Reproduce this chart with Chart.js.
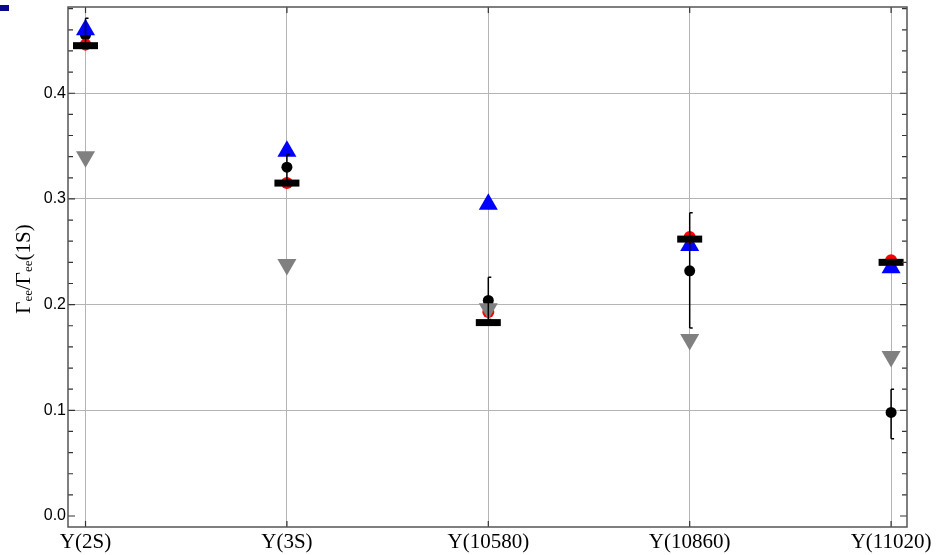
<!DOCTYPE html>
<html>
<head>
<meta charset="utf-8">
<script src="https://cdn.jsdelivr.net/npm/chart.js@4"></script>
<style>
  html, body { margin: 0; padding: 0; background: #fff; }
  #wrap { width: 937px; height: 555px; position: relative; }
</style>
</head>
<body>
<div id="wrap"><canvas id="ratioChart"></canvas></div>
<script>
const categories = ['Υ(2S)', 'Υ(3S)', 'Υ(10580)', 'Υ(10860)', 'Υ(11020)'];
const yTicks = [0.0, 0.1, 0.2, 0.3, 0.4];

// experiment (black dots with error bars)
const exptValues = [0.455, 0.330, 0.204, 0.232, 0.098];
const exptLow    = [0.445, 0.318, 0.186, 0.178, 0.073];
const exptHigh   = [0.471, 0.342, 0.226, 0.287, 0.120];

// model predictions
const redValues   = [0.446, 0.315, 0.193, 0.264, 0.242];
const blueValues  = [0.460, 0.345, 0.295, 0.256, 0.235];
const greyValues  = [0.340, 0.238, 0.196, 0.167, 0.151];
const blackBars   = [0.445, 0.315, 0.183, 0.262, 0.240];

const pts = vals => vals.map((v, i) => ({ x: i, y: v }));

const frameAndTicks = {
  id: 'frameAndTicks',
  afterDatasetsDraw(chart) {
    const { ctx, chartArea: a, scales: { x, y } } = chart;
    ctx.save();
    // error bars
    ctx.strokeStyle = '#000';
    ctx.lineWidth = 1.5;
    exptValues.forEach((v, i) => {
      const px = x.getPixelForValue(i);
      const lo = y.getPixelForValue(exptLow[i]);
      const hi = y.getPixelForValue(exptHigh[i]);
      ctx.beginPath();
      ctx.moveTo(px, lo); ctx.lineTo(px, hi);
      ctx.moveTo(px, lo); ctx.lineTo(px + 3, lo);
      ctx.moveTo(px, hi); ctx.lineTo(px + 3, hi);
      ctx.stroke();
    });
    // tick marks
    ctx.strokeStyle = '#333';
    ctx.lineWidth = 1.2;
    ctx.beginPath();
    for (let k = 0; k <= 24; k++) {
      const v = k * 0.02;
      const py = y.getPixelForValue(v);
      if (py < a.top || py > a.bottom) continue;
      const len = (k % 5 === 0) ? 7 : 5;
      ctx.moveTo(a.left, py); ctx.lineTo(a.left + len, py);
      ctx.moveTo(a.right, py); ctx.lineTo(a.right - len, py);
    }
    categories.forEach((c, i) => {
      const px = x.getPixelForValue(i);
      ctx.moveTo(px, a.top); ctx.lineTo(px, a.top + 6);
      ctx.moveTo(px, a.bottom); ctx.lineTo(px, a.bottom - 6);
    });
    ctx.stroke();
    // frame
    ctx.strokeStyle = '#555';
    ctx.lineWidth = 1.5;
    ctx.strokeRect(a.left, a.top, a.right - a.left, a.bottom - a.top);
    // y axis title with subscripts
    ctx.translate(24, 269);
    ctx.rotate(-Math.PI / 2);
    ctx.fillStyle = '#000';
    ctx.textBaseline = 'middle';
    const big = '21px "Liberation Serif", serif';
    const small = '13px "Liberation Serif", serif';
    const parts = [['Γ', big, 0], ['ee', small, 5], ['/Γ', big, 0], ['ee', small, 5], ['(1S)', big, 0]];
    let w = 0;
    parts.forEach(p => { ctx.font = p[1]; w += ctx.measureText(p[0]).width; });
    let cx = -w / 2;
    parts.forEach(p => { ctx.font = p[1]; ctx.fillText(p[0], cx, p[2]); cx += ctx.measureText(p[0]).width; });
    ctx.restore();
    // slide artefact at the top left
    ctx.save();
    ctx.fillStyle = '#0a0a8c';
    ctx.fillRect(0, 5, 9, 6);
    ctx.restore();
  }
};

new Chart(document.getElementById('ratioChart'), {
  type: 'scatter',
  data: {
    datasets: [
      {
        label: 'bars',
        data: pts(blackBars),
        pointStyle: 'line',
        pointRadius: 12.5,
        borderWidth: 7,
        borderColor: '#000',
        backgroundColor: '#000'
      },
      {
        label: 'grey',
        data: pts(greyValues),
        pointStyle: 'triangle',
        rotation: 180,
        pointRadius: 11,
        borderWidth: 0,
        backgroundColor: '#808080'
      },
      {
        label: 'red',
        data: pts(redValues),
        pointStyle: 'circle',
        pointRadius: 6,
        borderWidth: 0,
        backgroundColor: '#ff0000'
      },
      {
        label: 'blue',
        data: pts(blueValues),
        pointStyle: 'triangle',
        pointRadius: 11,
        borderWidth: 0,
        backgroundColor: '#0000ff'
      },
      {
        label: 'expt',
        data: pts(exptValues),
        pointStyle: 'circle',
        pointRadius: 5.5,
        borderWidth: 0,
        backgroundColor: '#000'
      }
    ]
  },
  options: {
    responsive: true,
    maintainAspectRatio: false,
    animation: false,
    layout: { autoPadding: false, padding: { top: 7, right: 30, left: 0, bottom: 0 } },
    plugins: { legend: { display: false }, tooltip: { enabled: false } },
    scales: {
      x: {
        type: 'linear',
        min: -0.087,
        max: 4.079,
        afterBuildTicks: s => { s.ticks = categories.map((c, i) => ({ value: i })); },
        afterFit: s => { s.height = 28; s.paddingLeft = 0; s.paddingRight = 0; },
        ticks: {
          callback: v => categories[v],
          color: '#000',
          padding: 3,
          maxRotation: 0,
          autoSkip: false,
          font: { family: '"Liberation Serif", serif', size: 21 }
        },
        grid: { color: '#b4b4b4', lineWidth: 1, drawTicks: false },
        border: { display: false }
      },
      y: {
        min: -0.0104,
        max: 0.4816,
        afterBuildTicks: s => { s.ticks = yTicks.map(v => ({ value: v })); },
        afterFit: s => { s.width = 68; s.paddingTop = 0; s.paddingBottom = 0; },
        ticks: {
          callback: v => v.toFixed(1),
          color: '#000',
          padding: 2,
          font: { family: '"Liberation Sans", sans-serif', size: 16 }
        },
        grid: {
          color: ctx => ctx.tick && ctx.tick.value === 0 ? 'rgba(0,0,0,0)' : '#b4b4b4',
          lineWidth: 1,
          drawTicks: false
        },
        border: { display: false }
      }
    }
  },
  plugins: [frameAndTicks]
});
</script>
</body>
</html>
